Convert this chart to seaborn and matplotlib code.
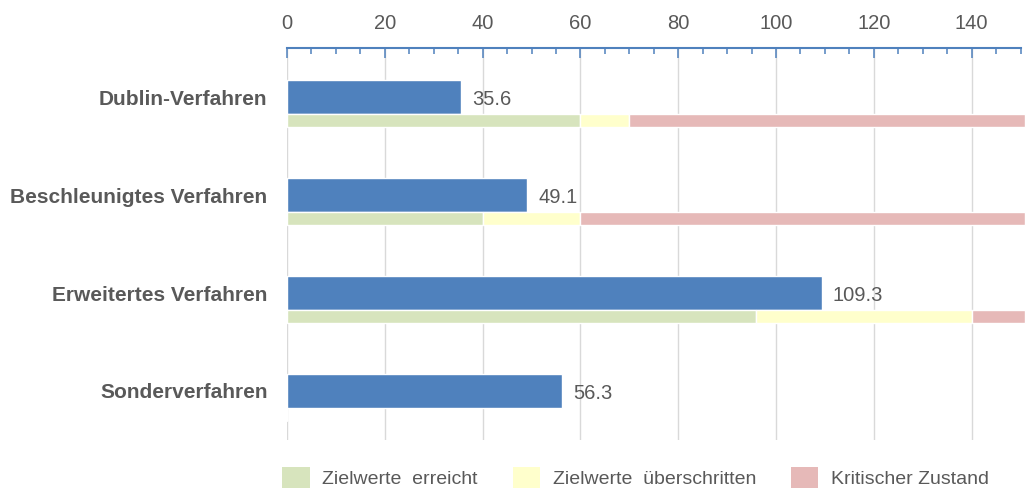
import matplotlib
matplotlib.use("Agg")
import matplotlib.pyplot as plt
import seaborn as sns
import pandas as pd
import numpy as np
from matplotlib.patches import Patch
from matplotlib.ticker import MultipleLocator

# data
verfahren = ["Dublin-Verfahren", "Beschleunigtes Verfahren", "Erweitertes Verfahren", "Sonderverfahren"]
dauer = [35.6, 49.1, 109.3, 56.3]
# band limits (0 = no band)
zielwert_ende = [60, 40, 96, 0]
ueberschritten_ende = [70, 60, 140, 0]
kritisch_ende = [151, 151, 151, 0]
legend_labels = ["Zielwerte  erreicht", "Zielwerte  überschritten", "Kritischer Zustand"]

blue = "#4F81BD"
band_colors = ["#D7E4BD", "#FFFFCC", "#E6B9B8"]
grey_txt = "#595959"

sns.set_style("white")
plt.rcParams["font.family"] = ["Liberation Sans", "DejaVu Sans"]

df = pd.DataFrame({"verfahren": verfahren, "dauer": dauer})

fig = plt.figure(figsize=(10.27, 4.92), dpi=100)
ax = fig.add_axes([0.2795, 0.1057, 0.9937 - 0.2795, 0.9024 - 0.1057])

sns.barplot(data=df, y="verfahren", x="dauer", orient="h", color=blue,
            width=0.347, saturation=1, ax=ax, zorder=3)
labels = ax.bar_label(ax.containers[0], fmt="%.1f", padding=8, fontsize=14.5, color=grey_txt)
for t in labels:
    t.xyann = (8, -2)

# target bands below each bar
ypos = np.arange(len(verfahren)) + 0.24
z = np.array(zielwert_ende, dtype=float)
u = np.array(ueberschritten_ende, dtype=float)
k = np.array(kritisch_ende, dtype=float)
ax.barh(ypos, z, height=0.133, color=band_colors[0], zorder=3, clip_on=False)
ax.barh(ypos, u - z, left=z, height=0.133, color=band_colors[1], zorder=3, clip_on=False)
ax.barh(ypos, k - u, left=u, height=0.133, color=band_colors[2], zorder=3, clip_on=False)

ax.set_xlim(0, 150)
ax.set_ylim(3.5, -0.5)
ax.xaxis.tick_top()
ax.xaxis.set_major_locator(MultipleLocator(20))
ax.xaxis.set_minor_locator(MultipleLocator(5))
ax.tick_params(axis="x", which="major", direction="in", length=7, width=1.1,
               color=blue, labelsize=14.5, labelcolor=grey_txt, pad=11)
ax.tick_params(axis="x", which="minor", direction="in", length=4, width=1.1, color=blue)
ax.tick_params(axis="y", length=0, labelsize=15, labelcolor=grey_txt, pad=14)
for lab in ax.get_yticklabels():
    lab.set_fontweight("bold")

ax.grid(axis="x", color="#D9D9D9", linewidth=1, zorder=0)
ax.set_axisbelow(True)
for s in ["left", "right", "bottom"]:
    ax.spines[s].set_visible(False)
ax.spines["top"].set_color(blue)
ax.spines["top"].set_linewidth(1.5)
ax.set_xlabel("")
ax.set_ylabel("")

handles = [Patch(facecolor=c, edgecolor="none") for c in band_colors]
fig.legend(handles, legend_labels, loc="lower center", bbox_to_anchor=(0.619, -0.02),
           ncol=3, frameon=False, fontsize=14, labelcolor=grey_txt, borderpad=0.2,
           handlelength=1.4, handleheight=1.25, columnspacing=1.8, handletextpad=0.65)

fig.savefig("out.png", dpi=100)
